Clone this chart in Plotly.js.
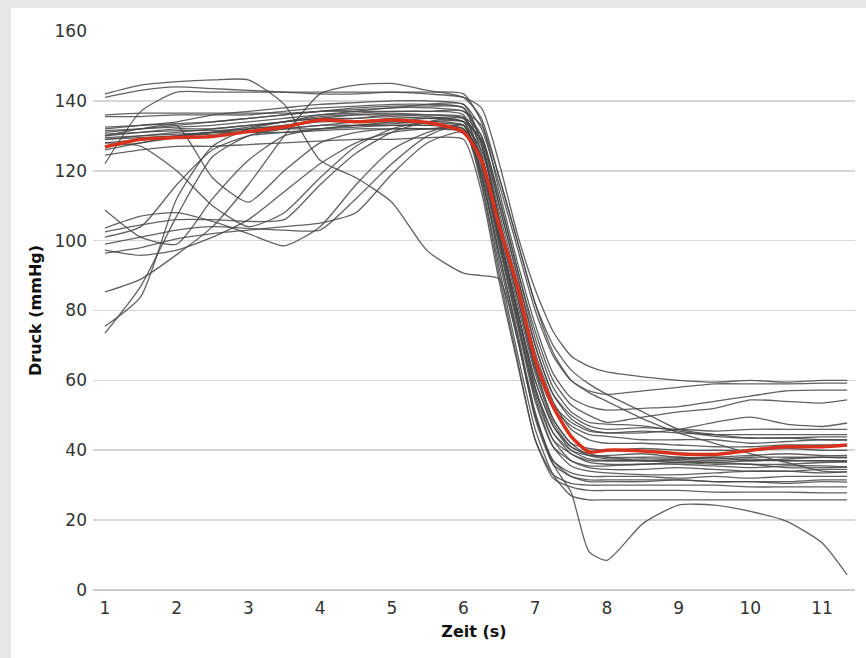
<!DOCTYPE html>
<html>
<head>
<meta charset="utf-8">
<script src="https://cdn.plot.ly/plotly-3.0.1.min.js"></script>
<style>
  html, body { margin: 0; padding: 0; background: #e5e6e8; width: 866px; height: 658px; overflow: hidden; }
  #chart { position: absolute; left: 11px; top: 8px; width: 855px; height: 650px; background: #ffffff; }
</style>
</head>
<body>
<div id="chart"></div>
<script>
// Zeit (s)
const time = [1, 1.5, 2, 2.5, 3, 3.5, 4, 4.5, 5, 5.5, 6, 6.25, 6.5, 6.75, 7, 7.25, 7.5, 7.75, 8, 8.5, 9, 9.5, 10, 10.5, 11, 11.35];

// Einzelne Druckverläufe (mmHg)
const p01 = [142,144.5,145.5,146,146,139,123,118,111,97,90.7, 90,89,72,50,37,32.5,31, 31,31,31.5,31,31,30.5,31,30.9];
const p02 = [141,143,144,143.5,143,142.5,142,142,142.5,142,141, 138,122,102,86,74,67,64, 62.4,61,60,59.5,60,59.5,60,60];
const p03 = [122,137,142.5,142.5,142.5,142.5,142.5,142.5,142.5,142.5,142, 134,114,94,76,62,55,52.5, 51.5,52,52.5,54,55.5,57,57.2,57.2];
const p04 = [136,136.5,136.5,136.5,136.5,136.5,137,137.5,138,139,139, 128,104,82,62,48,41,38.5, 38,37,37.5,38,37,37.5,38,37.8];
const p05 = [135.5,135.5,136,136,136,137,138,138.5,139,139,138, 125,102,80,60,47,40,37.5, 37,37,36.5,36,36,35,35,35.2];
const p06 = [132,133,134,136,137,138,139,139.5,140,140,139, 132,116,98,80,67,60,57, 56,57,58,59,59,59,59.2,59.2];
const p07 = [131,132,133,134,135,136,137,137,137,137,136, 122,100,78,55,41,35.5,34, 33.5,33,33,33.5,34,34,33.5,33.8];
const p08 = [130,131,132,132,133,134,135,135,136,135.5,134, 123,101,80,58,45,39,36.5, 36,36,36.5,36.5,36,36,36.5,36.6];
const p09 = [129.5,130,130.5,131,132,133,134,134,134,133.5,133, 126,106,86,66,53,48,45.5, 45,45,46,48,49.5,47.5,46.8,47.8];
const p10 = [128,129,130,131,131,132,133,133,133,133,132, 116,90,66,43,33,30.5,30, 30,30,30,30,29.5,29.5,29.5,29.5];
const p11 = [126,128,130,131,131.5,132,132,132.5,133,133,132, 124,104,84,64,52,47,44.5, 44,43,43,43,42,42.5,43,42.9];
const p12 = [124.5,126,127,127,127.5,128,128.5,129,129,129.5,129, 114,88,65,43,32,29.5,28.5, 28.5,28.5,28.5,28,28,28,27.8,27.8];
const p13 = [131.5,132,132.5,133,134,135,136,136.5,137,137,137, 130,112,92,74,60,53,50, 48,49.5,51,52,54.4,54,53.5,54.4];
const p14 = [75.5,84,112,127,132,134,136,137,138,138,137, 133,118,100,82,70,63,59, 56,51,46,44.5,43.5,43.5,43.8,43.8];
const p15 = [73.5,87,107,124,130,132,133,134,135,135,134, 117,92,68,46,33,27,25.8, 25.8,25.8,25.8,25.8,25.8,25.8,25.8,25.8];
const p16 = [85.3,89,96,104,116,130,142,144.5,145,143,141, 135,118,100,82,68,60,56.5, 54,49,45,42,39,36.5,34,33.8];
const p17 = [108.8,101,99,112,123,130,132,133,133.5,134,133, 119,94,72,50,36,28,11, 8.5,19,24.3,24.3,22.5,19.7,13.5,4.3];
const p18 = [103.6,107,108,105.5,102,98.5,104,116,126,131,133, 122,100,78,57,45,40,38.5, 38.5,39,38,38,38.5,39,38.5,38.5];
const p19 = [102.5,104.5,106,106,105.5,106,116,125,131,134,135, 128,108,88,68,54,46,43, 42,42,41.5,41,41,41.5,41.5,41.5];
const p20 = [97.3,95.8,97.3,101,106,114,122,128,131,132,132, 118,96,74,51,37,33.5,32.5, 32.5,32.5,32,32.5,32,32.5,32.5,32.5];
const p21 = [96.4,98,100.5,102,103,104,105,108,119,128,131, 120,98,76,54,41,37,35.5, 35.5,36,36,35.5,35,35.5,35.5,35.2];
const p22 = [130,132,133,118,111,120,128,131,132,132,131, 121,99,77,56,43,39,37, 37,37,37,36.5,37,37,37,36.8];
const p23 = [128,127,120,110,104,108,118,127,132,134,134, 129,110,90,70,56,49,46, 45,45.5,45,44.5,44.5,44.5,44.5,44.5];
const p24 = [99,101,103,104,103.5,103,103,112,122,130,133, 119,96,73,49,36,32.5,31.5, 31.5,31.5,31.5,31,31,31,31.5,31.5];
const p25 = [101,104,116,126,130,131,132,133,134,135,135, 124,102,80,58,43,37,35, 34.5,34.5,35,34.5,34,34,34.5,34.5];
const p26 = [130.5,131,131.5,131.5,132,133,134.5,135,135.5,135,134, 129,110,90,70,56,50,47, 46,46.5,46,45.5,46,46,46,46];
const p27 = [129,129.5,130,130.5,131,131,131.5,132,132,132,131.5, 124,102,80,60,47,41,39, 38,38,38,37.5,38,38,38,38];
const p28 = [129,130,131,132,133,134,135,136,136.5,136,135, 127,106,86,64,49,42,40.5, 40,40.5,40,40,40,40.5,40,40];
const p29 = [127,128,129.5,131,132.5,134,135.5,136,136,136,135.5, 130,112,92,72,58,51,48, 47.5,47,45.5,44,43.5,43.5,43,43];
const p30 = [132.5,133,133.5,134,135,136,137,138,138.5,138.5,138, 128,106,84,63,49,42,38.5, 37.5,37.5,37.5,37,37.5,37,37,37];

// Mittelwert (rot)
const meanPressure = [126.8,129,129.5,129.8,131.2,132.5,134.5,134,134.5,133.8,131, 123,104,87,66,52.5,44,39.5, 40,39.8,39,38.8,40,41,41,41.5];

// Achsen
const yTicks = [0, 20, 40, 60, 80, 100, 120, 140, 160];
const xTicks = [1, 2, 3, 4, 5, 6, 7, 8, 9, 10, 11];

const individual = [p01,p02,p03,p04,p05,p06,p07,p08,p09,p10,p11,p12,p13,p14,p15,p16,p17,p18,p19,p20,p21,p22,p23,p24,p25,p26,p27,p28,p29,p30];

const traces = individual.map(v => ({
  x: time, y: v, type: 'scatter', mode: 'lines',
  line: { color: 'rgba(70,70,70,0.85)', width: 1.3, shape: 'spline', smoothing: 0.6 },
  hoverinfo: 'skip'
}));
traces.push({
  x: time, y: meanPressure, type: 'scatter', mode: 'lines',
  line: { color: '#d8321f', width: 3.5, shape: 'spline', smoothing: 0.6 },
  hoverinfo: 'skip'
});

const layout = {
  width: 855, height: 650,
  margin: { l: 82, r: 11, t: 23, b: 68 },
  paper_bgcolor: '#ffffff',
  plot_bgcolor: '#ffffff',
  showlegend: false,
  hovermode: false,
  font: { family: 'DejaVu Sans', color: '#333333' },
  xaxis: {
    range: [0.833, 11.46],
    tickvals: xTicks,
    ticktext: xTicks.map(String),
    showgrid: false, zeroline: false, showline: false, ticks: '',
    ticklabelstandoff: 6,
    tickfont: { family: 'DejaVu Sans', size: 17, color: '#333333' },
    title: { text: 'Zeit (s)', font: { family: 'DejaVu Sans', size: 16, weight: 700, color: '#111111' }, standoff: 8 }
  },
  yaxis: {
    range: [0, 160],
    tickvals: yTicks,
    ticktext: yTicks.map(String),
    showgrid: true, gridcolor: '#d6d6d6', gridwidth: 1.6,
    zeroline: true, zerolinecolor: '#cccccc', zerolinewidth: 2,
    showline: false, ticks: '',
    ticklabelstandoff: 5,
    tickfont: { family: 'DejaVu Sans', size: 17, color: '#333333' },
    title: { text: 'Druck (mmHg)', font: { family: 'DejaVu Sans', size: 16, weight: 700, color: '#111111' }, standoff: 8 }
  }
};

Plotly.newPlot('chart', traces, layout, { displayModeBar: false, staticPlot: true });
</script>
</body>
</html>
